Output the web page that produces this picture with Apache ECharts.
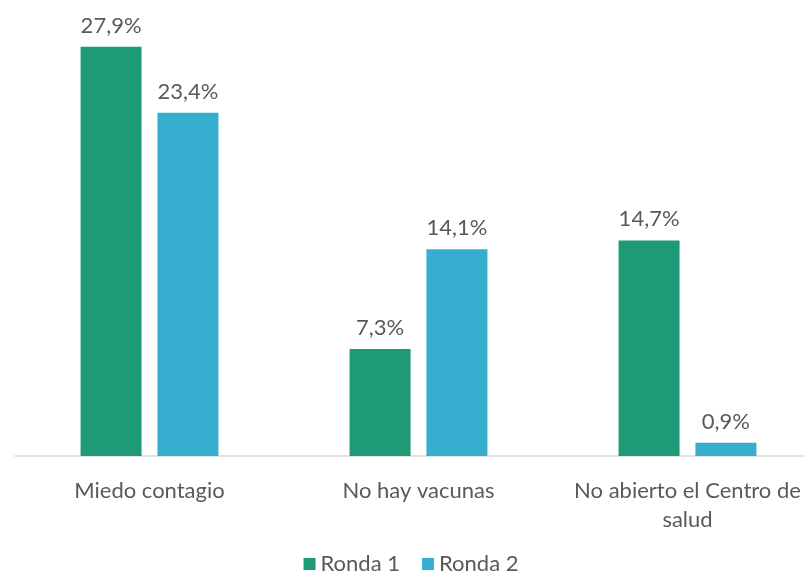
<!DOCTYPE html>
<html>
<head>
<meta charset="utf-8">
<script src="https://cdn.jsdelivr.net/npm/echarts@6/dist/echarts.min.js"></script>
<style>
  html, body { margin: 0; padding: 0; background: #fff; overflow: hidden; }
  #chart { width: 822px; height: 578px; }
</style>
</head>
<body>
<div id="chart"></div>
<script>
var categories = ['Miedo contagio', 'No hay vacunas', 'No abierto el Centro de\nsalud'];
var ronda1 = [27.9, 7.3, 14.7];
var ronda2 = [23.4, 14.1, 0.9];
var seriesNames = ['Ronda 1', 'Ronda 2'];

var fontFam = 'Lato, "Open Sans", sans-serif';
var myChart = echarts.init(document.getElementById('chart'));

function pct(p) {
    return p.value.toFixed(1).replace('.', ',') + '%';
}

var option = {
    color: ['#1f9a76', '#36aed0'],
    textStyle: {fontFamily: fontFam},
    grid: {
        left: 15,
        top: 16,
        right: 0,
        height: 440
    },
    legend: {
        data: seriesNames,
        bottom: -2,
        left: 'center',
        itemWidth: 12,
        itemHeight: 12,
        itemGap: 22,
        icon: 'rect',
        textStyle: {fontSize: 22, color: '#595959', fontFamily: fontFam}
    },
    xAxis: {
        type: 'category',
        data: categories,
        axisLine: {lineStyle: {color: '#d9d9d9', width: 1.5}},
        axisTick: {show: false},
        axisLabel: {
            fontSize: 22,
            color: '#595959',
            margin: 20,
            lineHeight: 29,
            interval: 0
        }
    },
    yAxis: {
        type: 'value',
        min: 0,
        max: 30,
        show: false
    },
    series: [
        {
            name: seriesNames[0],
            type: 'bar',
            data: ronda1,
            barWidth: 61,
            barGap: '26%',
            label: {show: true, position: 'top', distance: 10, fontSize: 22, color: '#595959', formatter: pct}
        },
        {
            name: seriesNames[1],
            type: 'bar',
            data: ronda2,
            barWidth: 61,
            barGap: '26%',
            label: {show: true, position: 'top', distance: 10, fontSize: 22, color: '#595959', formatter: pct}
        }
    ]
};
myChart.setOption(option);
</script>
</body>
</html>
